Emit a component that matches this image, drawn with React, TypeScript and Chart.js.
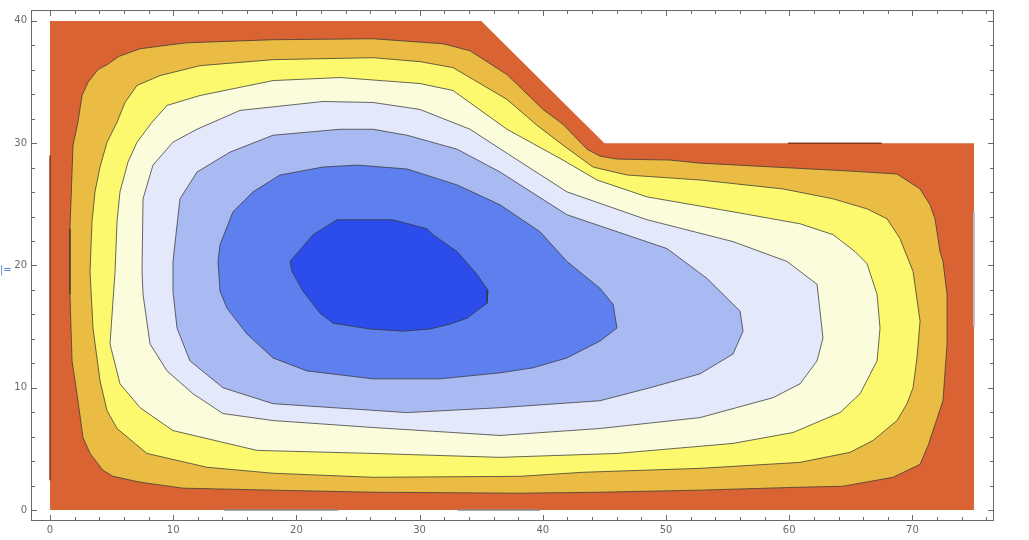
import React, { useEffect, useRef } from 'react';
import { Chart, registerables } from 'chart.js';

Chart.register(...registerables);

// Domain of the plot (outermost region)
const domainShape: [number, number][] = [[0, 0], [75, 0], [75, 30], [45, 30], [35, 40], [0, 40]];

// Contour outlines, outermost to innermost
const levelA: [number, number][] = [
  [2.27, 31.71], [1.87, 29.84], [1.62, 23.01], [1.62, 17.64], [1.79, 12.2], [2.19, 9.51], [2.68, 5.93],
  [3.25, 4.63], [4.3, 3.25], [5.11, 2.76], [7.31, 2.28], [10.8, 1.79], [18.1, 1.63], [26.22, 1.46],
  [38.15, 1.38], [44.64, 1.46], [52.76, 1.63], [60.88, 1.87], [64.37, 1.95], [68.43, 2.68], [70.62, 3.74],
  [71.27, 5.28], [72.48, 8.94], [72.81, 13.58], [72.81, 17.64], [72.48, 20.33], [72.24, 21.14],
  [71.83, 23.82], [71.43, 24.96], [70.62, 26.26], [68.75, 27.48], [64.94, 27.72], [52.76, 28.37],
  [50.32, 28.62], [46.02, 28.7], [44.64, 28.94], [43.59, 29.51], [41.64, 31.54], [40.02, 32.76],
  [37.09, 35.61], [34.09, 37.56], [31.9, 38.13], [26.22, 38.54], [18.1, 38.46], [11.12, 38.21],
  [9.17, 37.97], [7.31, 37.72], [5.6, 37.1], [4.63, 36.42], [3.9, 36.02], [3.1, 35.0], [2.6, 33.9]
];
const levelB: [number, number][] = [
  [3.25, 19.51], [3.41, 23.58], [3.65, 26.02], [4.06, 28.05], [4.63, 30.08], [5.44, 31.71], [6.09, 33.33],
  [7.06, 34.72], [8.93, 35.53], [12.18, 36.34], [18.1, 36.83], [26.22, 36.99], [30.03, 36.67],
  [32.71, 36.18], [37.09, 33.58], [39.53, 31.46], [41.64, 29.84], [44.07, 28.05], [46.83, 27.4],
  [52.76, 26.99], [59.5, 26.26], [63.56, 25.45], [66.31, 24.63], [67.94, 23.82], [68.99, 22.2],
  [70.05, 19.51], [70.62, 15.45], [70.37, 12.44], [70.05, 10.0], [69.56, 8.7], [68.75, 7.32],
  [66.8, 5.69], [64.94, 4.72], [60.88, 3.9], [52.76, 3.41], [43.26, 3.09], [38.15, 2.76], [26.22, 2.68],
  [18.1, 3.01], [12.74, 3.5], [7.87, 4.63], [5.44, 6.67], [4.63, 8.13], [4.06, 10.57], [3.49, 14.88]
];
const levelC: [number, number][] = [
  [5.28, 19.51], [5.44, 23.58], [5.68, 26.02], [6.33, 28.46], [7.06, 30.08], [8.28, 31.71], [9.5, 33.09],
  [11.12, 33.58], [12.18, 33.9], [18.1, 35.12], [23.54, 35.37], [30.03, 34.88], [32.71, 34.31],
  [37.09, 31.14], [41.64, 28.62], [44.4, 26.99], [48.46, 25.61], [55.44, 24.39], [60.88, 23.41],
  [63.56, 22.52], [65.34, 21.14], [66.31, 20.16], [67.13, 17.64], [67.37, 14.88], [67.13, 12.2],
  [65.75, 9.51], [64.12, 7.97], [60.31, 6.34], [55.44, 5.45], [46.02, 4.63], [36.53, 4.31], [26.22, 4.63],
  [16.8, 4.88], [9.98, 6.5], [7.31, 8.37], [5.68, 10.33], [4.87, 13.58]
];
const levelD: [number, number][] = [
  [7.47, 19.51], [7.55, 25.45], [8.36, 28.21], [9.98, 30.08], [11.93, 31.14], [15.42, 32.68],
  [22.16, 33.41], [26.22, 33.33], [30.03, 32.76], [34.09, 31.14], [37.58, 28.86], [41.96, 26.02],
  [48.46, 23.74], [55.44, 21.95], [59.82, 20.33], [62.26, 18.46], [62.74, 14.07], [62.26, 12.2],
  [60.88, 10.33], [58.69, 9.19], [52.76, 7.56], [44.64, 6.67], [36.53, 6.1], [26.22, 6.75], [18.1, 7.32],
  [14.04, 7.89], [11.61, 9.51], [9.5, 11.38], [8.12, 13.58], [7.55, 17.64]
];
const levelE: [number, number][] = [
  [9.98, 20.33], [10.55, 25.45], [11.93, 27.64], [14.61, 29.27], [18.1, 30.65], [23.54, 31.14],
  [26.22, 31.14], [28.98, 30.65], [33.04, 29.51], [36.53, 27.64], [41.96, 24.15], [50.08, 21.38],
  [53.33, 18.94], [56.01, 16.26], [56.25, 14.63], [55.44, 12.76], [52.76, 11.14], [48.7, 10.0],
  [44.64, 8.94], [36.53, 8.37], [28.98, 7.97], [18.1, 8.7], [14.04, 10.0], [11.36, 12.2], [10.31, 14.88],
  [9.98, 17.89]
];
const levelF: [number, number][] = [
  [13.64, 20.33], [13.8, 21.71], [14.85, 24.39], [16.48, 26.02], [18.67, 27.4], [22.16, 28.05],
  [24.92, 28.21], [28.98, 27.89], [33.04, 26.59], [36.53, 24.96], [39.77, 22.76], [41.96, 20.33],
  [44.64, 18.13], [45.7, 16.83], [46.02, 14.88], [44.64, 13.82], [41.96, 12.44], [39.2, 11.63],
  [36.53, 11.22], [31.66, 10.73], [26.22, 10.73], [20.86, 11.38], [18.1, 12.44], [15.99, 14.39],
  [14.37, 16.5], [13.8, 17.89]
];
const levelG: [number, number][] = [
  [19.48, 20.33], [21.35, 22.52], [23.3, 23.74], [27.84, 23.74], [30.6, 23.01], [31.09, 22.52],
  [33.04, 21.14], [34.66, 19.27], [35.55, 17.97], [35.47, 16.91], [33.85, 15.69], [32.47, 15.2],
  [30.84, 14.8], [28.65, 14.63], [25.97, 14.8], [22.97, 15.28], [21.92, 16.1], [20.54, 17.89],
  [19.64, 19.51]
];

// Edge artifacts along the domain boundary
const leftEdge: [number, number][] = [[0, 2.44], [0, 29.0]];
const bottomEdge1: [number, number][] = [[14.1, 0], [23.4, 0]];
const bottomEdge2: [number, number][] = [[33.1, 0], [39.8, 0]];
const topRightEdge: [number, number][] = [[59.9, 30], [67.5, 30]];
const rightEdge: [number, number][] = [[75, 15.0], [75, 24.4]];

const fillColors = ['#D96332', '#EBBC43', '#FCF96E', '#FAFCDC', '#E3E8FB', '#A9B9F2', '#5E80EE', '#2C4DEB'];

const xTickLabels = [0, 10, 20, 30, 40, 50, 60, 70];
const yTickLabels = [0, 10, 20, 30, 40];
const xMinorTicks = [0, 2, 4, 6, 8, 10, 12, 14, 16, 18, 20, 22, 24, 26, 28, 30, 32, 34, 36, 38, 40, 42, 44, 46, 48, 50, 52, 54, 56, 58, 60, 62, 64, 66, 68, 70, 72, 74, 76];
const yMinorTicks = [0, 2, 4, 6, 8, 10, 12, 14, 16, 18, 20, 22, 24, 26, 28, 30, 32, 34, 36, 38, 40];

const toPts = (arr: [number, number][], close: boolean) => {
  const pts = arr.map(([x, y]) => ({ x, y }));
  if (close) pts.push({ x: arr[0][0], y: arr[0][1] });
  return pts;
};

const framePlugin = {
  id: 'mmaFrame',
  afterDraw(chart: any) {
    const { ctx, chartArea: a, scales } = chart;
    const xs = scales.x;
    const ys = scales.y;
    ctx.save();
    ctx.strokeStyle = '#6a6a6a';
    ctx.lineWidth = 1;
    ctx.strokeRect(a.left - 0.5, a.top - 0.5, a.right - a.left + 1, a.bottom - a.top + 1);
    ctx.beginPath();
    for (const v of xMinorTicks) {
      const len = xTickLabels.includes(v) ? 5 : 3;
      const px = Math.round(xs.getPixelForValue(v)) + 0.5;
      ctx.moveTo(px, a.bottom);
      ctx.lineTo(px, a.bottom - len);
      ctx.moveTo(px, a.top);
      ctx.lineTo(px, a.top + len);
    }
    for (const v of yMinorTicks) {
      const len = yTickLabels.includes(v) ? 5 : 3;
      const py = Math.round(ys.getPixelForValue(v)) + 0.5;
      ctx.moveTo(a.left, py);
      ctx.lineTo(a.left + len, py);
      ctx.moveTo(a.right, py);
      ctx.lineTo(a.right - len, py);
    }
    ctx.stroke();
    ctx.restore();
  }
};

export default function App() {
  const ref = useRef<HTMLCanvasElement | null>(null);

  useEffect(() => {
    if (!ref.current) return;
    const levels = [domainShape, levelA, levelB, levelC, levelD, levelE, levelF, levelG];
    const n = levels.length;
    const contourSets = levels.map((lv, i) => ({
      data: toPts(lv, true),
      showLine: true,
      fill: 'shape',
      backgroundColor: fillColors[i],
      borderColor: i === 0 ? 'rgba(0,0,0,0)' : 'rgba(55,55,55,0.75)',
      borderWidth: i === 0 ? 0 : 1,
      pointRadius: 0,
      tension: 0,
      order: 20 + (n - i)
    }));
    const edge = (arr: [number, number][], color: string, w: number) => ({
      data: toPts(arr, false),
      showLine: true,
      fill: false,
      borderColor: color,
      borderWidth: w,
      pointRadius: 0,
      order: 1
    });
    const chart = new Chart(ref.current, {
      type: 'scatter',
      data: {
        datasets: [
          ...contourSets,
          edge(leftEdge, 'rgba(120,45,20,0.9)', 1.5),
          edge(bottomEdge1, 'rgba(125,135,150,0.95)', 1.5),
          edge(bottomEdge2, 'rgba(125,135,150,0.95)', 1.5),
          edge(topRightEdge, 'rgba(120,45,20,0.9)', 1.5),
          edge(rightEdge, 'rgba(190,190,195,0.9)', 2)
        ] as any
      },
      options: {
        animation: false,
        responsive: false,
        devicePixelRatio: 1,
        events: [],
        layout: { padding: { left: 0, right: 36, top: 8, bottom: 0 } },
        plugins: { legend: { display: false }, tooltip: { enabled: false } },
        scales: {
          x: {
            type: 'linear',
            min: -1.461,
            max: 76.54,
            grid: { display: false, drawTicks: false },
            border: { display: false },
            afterBuildTicks: (s: any) => { s.ticks = xTickLabels.map((v) => ({ value: v })); },
            afterFit: (s: any) => { s.height = 20; },
            ticks: {
              padding: 4,
              color: '#6a6a6a',
              font: { family: 'DejaVu Sans', size: 10 },
              maxRotation: 0,
              autoSkip: false
            }
          },
          y: {
            type: 'linear',
            min: -0.813,
            max: 40.81,
            grid: { display: false, drawTicks: false },
            border: { display: false },
            afterBuildTicks: (s: any) => { s.ticks = yTickLabels.map((v) => ({ value: v })); },
            afterFit: (s: any) => { s.width = 32; },
            ticks: {
              padding: 5,
              color: '#6a6a6a',
              font: { family: 'DejaVu Sans', size: 10 },
              autoSkip: false
            }
          }
        }
      } as any,
      plugins: [framePlugin]
    });
    return () => chart.destroy();
  }, []);

  return (
    <div style={{ position: 'fixed', left: 0, top: 0, width: 1029, height: 540, background: '#fff' }}>
      <canvas ref={ref} width={1029} height={540} style={{ display: 'block', width: 1029, height: 540 }} />
      <span style={{ position: 'absolute', left: 0, top: 264, fontFamily: 'DejaVu Sans', fontSize: 10, color: '#4a86c8', lineHeight: '12px', whiteSpace: 'nowrap' }}>|=</span>
    </div>
  );
}
